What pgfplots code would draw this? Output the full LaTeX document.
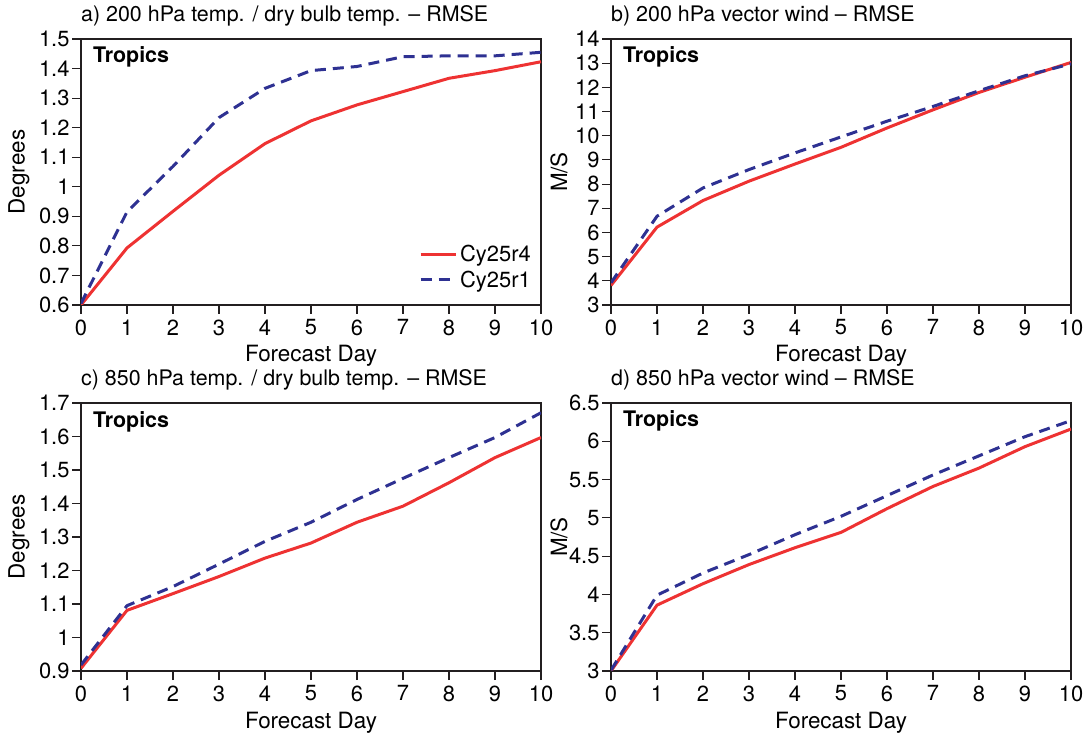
\documentclass[border=0pt]{standalone}
\usepackage{pgfplots}
\pgfplotsset{compat=1.18}
\usepackage{fontspec}
\setmainfont{TeX Gyre Heros}
\definecolor{cred}{RGB}{238,50,50}
\definecolor{cblue}{RGB}{46,49,146}
\definecolor{cframe}{RGB}{35,31,32}
\pgfplotsset{
  panel/.style={
    scale only axis, width=460bp,
    xmin=0, xmax=10, xtick={0,1,...,10},
    tick align=outside, major tick length=9bp,
    xtick pos=bottom, ytick pos=left,
    axis line style={line width=1.1bp, cframe},
    tick style={line width=1.1bp, cframe},
    /pgf/number format/assume math mode=true,
    ticklabel style={font=\fontsize{22}{25}\selectfont},
    xticklabel style={yshift=-2bp},
    yticklabel style={xshift=1bp},
    xlabel={Forecast Day},
    xlabel style={at={(rel axis cs:0.5,0)}, anchor=base, yshift=-57bp, font=\fontsize{22.5}{25}\selectfont, inner sep=0pt},
    ylabel style={at={(rel axis cs:0,0.5)}, anchor=center, font=\fontsize{22.5}{25}\selectfont, inner sep=0pt},
    title style={at={(rel axis cs:0,1)}, anchor=base west, yshift=12bp, inner sep=0pt, font=\fontsize{21.5}{24}\selectfont},
    legend image code/.code={\draw[#1] (0bp,0bp) -- (35bp,0bp);},
  },
  r4/.style={cred, line width=3bp, solid},
  r1/.style={cblue, line width=3bp, dash pattern=on 11bp off 7bp},
}
\newcommand{\tropics}{\node[anchor=base west, inner sep=0pt, font=\fontsize{21.5}{24}\selectfont\bfseries] at (rel axis cs:0,1) [xshift=12bp, yshift=-24bp] {Tropics};}
\begin{document}
\begin{tikzpicture}
\useasboundingbox (0,0) rectangle (1087bp,734bp);
% a
\begin{axis}[panel, at={(81bp,429bp)}, anchor=south west, height=266bp,
  ymin=0.6, ymax=1.5, ytick={0.6,0.7,0.8,0.9,1,1.1,1.2,1.3,1.4,1.5},
  ylabel={Degrees}, ylabel style={yshift=62bp},
  title={a) 200 hPa temp. / dry bulb temp. -- RMSE},
  legend style={draw=none, fill=none, at={(rel axis cs:1,0)}, anchor=south east, xshift=-4bp, yshift=11bp, font=\fontsize{22}{25}\selectfont, row sep=2bp, nodes={inner sep=3bp}},
  legend cell align=left]
\addplot[r4] coordinates {(0,0.60)(1,0.793)(2,0.917)(3,1.039)(4,1.146)(5,1.223)(6,1.277)(7,1.322)(8,1.367)(9,1.393)(10,1.423)};
\addlegendentry{Cy25r4}
\addplot[r1] coordinates {(0,0.605)(1,0.915)(2,1.069)(3,1.234)(4,1.333)(5,1.393)(6,1.407)(7,1.440)(8,1.443)(9,1.443)(10,1.455)};
\addlegendentry{Cy25r1}
\tropics
\end{axis}
% b
\begin{axis}[panel, at={(611bp,429bp)}, anchor=south west, height=266bp,
  ymin=3, ymax=14, ytick={3,4,...,14},
  ylabel={M/S}, ylabel style={yshift=52bp},
  title={b) 200 hPa vector wind -- RMSE}]
\addplot[r4] coordinates {(0,3.81)(1,6.22)(2,7.32)(3,8.12)(4,8.83)(5,9.52)(6,10.32)(7,11.07)(8,11.79)(9,12.42)(10,13.03)};
\addplot[r1] coordinates {(0,3.92)(1,6.67)(2,7.84)(3,8.60)(4,9.29)(5,9.95)(6,10.60)(7,11.21)(8,11.86)(9,12.48)(10,12.97)};
\tropics
\end{axis}
% c
\begin{axis}[panel, at={(81bp,63bp)}, anchor=south west, height=268bp,
  ymin=0.9, ymax=1.7, ytick={0.9,1,1.1,1.2,1.3,1.4,1.5,1.6,1.7},
  ylabel={Degrees}, ylabel style={yshift=62bp},
  title={c) 850 hPa temp. / dry bulb temp. -- RMSE}]
\addplot[r4] coordinates {(0,0.908)(1,1.081)(2,1.131)(3,1.182)(4,1.237)(5,1.282)(6,1.344)(7,1.392)(8,1.462)(9,1.537)(10,1.597)};
\addplot[r1] coordinates {(0,0.918)(1,1.095)(2,1.152)(3,1.219)(4,1.287)(5,1.344)(6,1.412)(7,1.475)(8,1.537)(9,1.597)(10,1.671)};
\tropics
\end{axis}
% d
\begin{axis}[panel, at={(611bp,63bp)}, anchor=south west, height=268bp,
  ymin=3, ymax=6.5, ytick={3,3.5,4,4.5,5,5.5,6,6.5},
  ylabel={M/S}, ylabel style={yshift=52bp},
  title={d) 850 hPa vector wind -- RMSE}]
\addplot[r4] coordinates {(0,3.00)(1,3.86)(2,4.14)(3,4.39)(4,4.61)(5,4.81)(6,5.12)(7,5.41)(8,5.65)(9,5.93)(10,6.16)};
\addplot[r1] coordinates {(0,3.01)(1,3.99)(2,4.28)(3,4.52)(4,4.78)(5,5.02)(6,5.29)(7,5.56)(8,5.81)(9,6.06)(10,6.27)};
\tropics
\end{axis}
\end{tikzpicture}
\end{document}
